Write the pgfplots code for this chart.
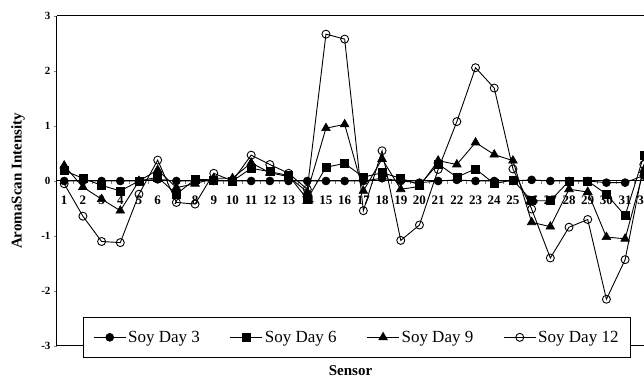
\documentclass[border=0pt]{standalone}
\usepackage{fontspec}
\setmainfont{Liberation Serif}
\usepackage{pgfplots}
\pgfplotsset{compat=1.18}
\usepackage{pgfplotstable}
\pgfplotstableread{
s d3 d6 d9 d12
1 0 0.19 0.28 -0.05
2 0 0.05 -0.11 -0.64
3 0 -0.08 -0.33 -1.10
4 0 -0.18 -0.54 -1.12
5 0 0.00 0.00 -0.24
6 0.03 0.07 0.20 0.38
7 0 -0.24 -0.12 -0.39
8 0 0.03 -0.05 -0.42
9 0 0.02 0.05 0.14
10 0 0.00 0.05 0.00
11 0 0.23 0.33 0.47
12 0 0.17 0.15 0.30
13 0 0.10 0.08 0.14
14 0 -0.33 -0.20 -0.15
15 0 0.25 0.96 2.67
16 0 0.32 1.03 2.58
17 0 0.07 -0.18 -0.54
18 0.05 0.15 0.40 0.55
19 0 0.05 -0.15 -1.08
20 -0.03 -0.07 -0.10 -0.80
21 0 0.31 0.37 0.21
22 0.02 0.07 0.30 1.08
23 0 0.22 0.70 2.06
24 0 -0.05 0.48 1.69
25 0 0.02 0.37 0.22
26 0.02 -0.36 -0.75 -0.51
27 0 -0.36 -0.83 -1.40
28 0 0.00 -0.15 -0.84
29 0 0.00 -0.20 -0.70
30 -0.03 -0.24 -1.02 -2.15
31 -0.03 -0.63 -1.05 -1.43
32 0.10 0.46 0.20 0.30
}\datatable
\begin{document}
\begin{tikzpicture}
\path[use as bounding box] (-57pt,-33pt) rectangle (587pt,346pt);
\begin{axis}[
  at={(0pt,0pt)}, anchor=south west,
  scale only axis,
  width=587pt, height=330pt,
  xmin=0.615, xmax=32.01,
  ymin=-3, ymax=3,
  axis y line*=left,
  axis x line*=middle,
  axis line style={-, line width=1pt},
  xtick={1,...,32},
  major x tick style={draw=none},
  minor xtick={1.5,2.5,...,31.5},
  minor x tick style={line width=0.5pt},
  minor tick length=3pt,
  ytick={-3,-2,-1,0,1,2,3},
  ytick style={line width=0.8pt},
  tick align=outside,
  major tick length=3pt,
  /pgf/number format/assume math mode=true,
  xticklabel style={font=\bfseries\fontsize{13}{15}\selectfont, yshift=-8pt},
  yticklabel style={font=\bfseries\fontsize{11}{13}\selectfont},
  xlabel={Sensor},
  ylabel={AromaScan Intensity},
  xlabel style={font=\bfseries\fontsize{15}{17}\selectfont, at={(axis description cs:0.5,-0.076)}, anchor=center},
  ylabel style={font=\bfseries\fontsize{15}{17}\selectfont, at={(axis description cs:-0.0664,0.5)}, anchor=center},
  every axis plot/.append style={black, line width=0.9pt},
  legend columns=4,
  legend style={at={(axis description cs:0.0443,-0.0364)}, anchor=south west,
    font=\fontsize{17}{19}\selectfont, draw=black, line width=0.6pt, fill=white,
    inner xsep=10pt, inner ysep=12pt,
    /tikz/every even column/.append style={column sep=28pt}},
  legend image code/.code={\draw[mark repeat=2,mark phase=2] plot coordinates {(0pt,0pt) (16pt,0pt) (32pt,0pt)};},
]
\draw[line width=1pt] (rel axis cs:0,1) -- (rel axis cs:1,1);
\draw[line width=1pt] (rel axis cs:0,0) -- (rel axis cs:1,0);
\addplot[mark=*, mark size=4pt, mark options={fill=black, line width=0.6pt}] table[x=s,y=d3] {\datatable};
\addlegendentry{Soy Day 3}
\addplot[mark=square*, mark size=4pt, mark options={fill=black, line width=0.6pt}] table[x=s,y=d6] {\datatable};
\addlegendentry{Soy Day 6}
\addplot[mark=triangle*, mark size=5pt, mark options={fill=black, line width=0.6pt}] table[x=s,y=d9] {\datatable};
\addlegendentry{Soy Day 9}
\addplot[mark=o, mark size=4pt, mark options={fill=white, line width=0.9pt}] table[x=s,y=d12] {\datatable};
\addlegendentry{Soy Day 12}
\end{axis}
\end{tikzpicture}
\end{document}
